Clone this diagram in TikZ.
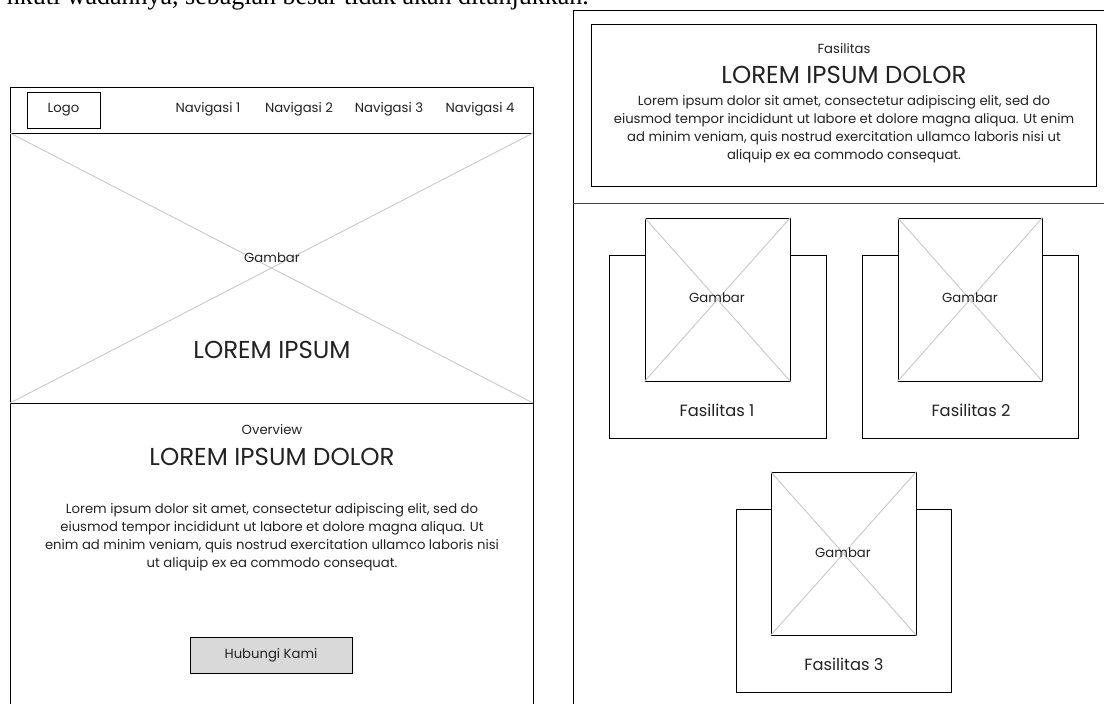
\documentclass[tikz,border=0pt]{standalone}
\usepackage{fontspec}
\setmainfont{Poppins}
\newfontfamily\docserif{Liberation Serif}
\definecolor{crossgray}{HTML}{C8C8C8}
\definecolor{btngray}{HTML}{D9D9D9}
\definecolor{txt}{HTML}{222222}
\tikzset{
  box/.style={draw=black, line width=1pt, fill=white, inner sep=0pt},
  crossline/.style={draw=crossgray, line width=0.9pt},
  frame/.style={draw=black, line width=1pt},
  small/.style={text=txt, inner sep=0pt, font=\fontsize{13.2}{16}\selectfont},
  para/.style={text=txt, inner sep=0pt, align=center, font=\fontsize{13.2}{18}\selectfont},
  big/.style={text=txt, inner sep=0pt, font=\fontsize{24.5}{28}\selectfont},
  mid/.style={text=txt, inner sep=0pt, font=\fontsize{16.3}{19}\selectfont},
}
\begin{document}
\begin{tikzpicture}[x=1pt,y=-1pt]
\useasboundingbox (0,0) rectangle (1104,704);
\clip (0,0) rectangle (1104,704);
% cut-off line of document text
\node[anchor=base east, inner sep=0pt, font=\docserif\fontsize{26}{30}\selectfont] (doc) at (589,4.5) {nkuti wadahnya, sebagian besar tidak akan ditunjukkan.};

% ---------- left wireframe ----------
\draw[frame] (10,710) -- (10,87) -- (533,87) -- (533,710);
\draw[frame] (10,133) -- (533,133);
\draw[frame] (10,403) -- (533,403);
\node[box, minimum width=73pt, minimum height=36pt] (logo) at (63.5,110) {};
\node[small] (logot) at (logo) {Logo};
\node[small] (nav1) at (208,109.5) {Navigasi 1};
\node[small] (nav2) at (299,109.5) {Navigasi 2};
\node[small] (nav3) at (389,109.5) {Navigasi 3};
\node[small] (nav4) at (480,109.5) {Navigasi 4};
\draw[crossline] (10,133) -- (533,403);
\draw[crossline] (10,403) -- (533,133);
\node[small] (hgam) at (272,258) {Gambar};
\node[big] (hero) at (272,350) {LOREM IPSUM};
\node[small] (ov) at (272,430) {Overview};
\node[big] (ovt) at (272,457) {LOREM IPSUM DOLOR};
\node[para] (ovp) at (272,537) {Lorem ipsum dolor sit amet, consectetur adipiscing elit, sed do\\eiusmod tempor incididunt ut labore et dolore magna aliqua. Ut\\enim ad minim veniam, quis nostrud exercitation ullamco laboris nisi\\ut aliquip ex ea commodo consequat.};
\node[box, fill=btngray, minimum width=162pt, minimum height=36pt] (btn) at (271,655) {};
\node[small] (btnt) at (btn) {Hubungi Kami};

% ---------- right wireframe ----------
\draw[frame] (573,710) -- (573,10) -- (1110,10);
\draw[draw=black!75, line width=1pt] (573,203) -- (1110,203);
\node[box, minimum width=505pt, minimum height=162pt] (fas) at (843.5,105) {};
\node[small] (fast) at (844,49) {Fasilitas};
\node[big] (fasT) at (844,75) {LOREM IPSUM DOLOR};
\node[para] (fasp) at (844,129) {Lorem ipsum dolor sit amet, consectetur adipiscing elit, sed do\\eiusmod tempor incididunt ut labore et dolore magna aliqua. Ut enim\\ad minim veniam, quis nostrud exercitation ullamco laboris nisi ut\\aliquip ex ea commodo consequat.};

% card 1
\node[box, minimum width=217pt, minimum height=183pt] (c1) at (717.5,346.5) {};
\node[box, minimum width=145pt, minimum height=163pt] (i1) at (717.5,299.5) {};
\draw[crossline] (i1.north west) -- (i1.south east);
\draw[crossline] (i1.south west) -- (i1.north east);
\node[small] (g1) at (717,298) {Gambar};
\node[mid] (f1) at (717,410) {Fasilitas 1};
% card 2
\node[box, minimum width=216pt, minimum height=183pt] (c2) at (970,346.5) {};
\node[box, minimum width=144pt, minimum height=163pt] (i2) at (970,299.5) {};
\draw[crossline] (i2.north west) -- (i2.south east);
\draw[crossline] (i2.south west) -- (i2.north east);
\node[small] (g2) at (970,298) {Gambar};
\node[mid] (f2) at (971,410) {Fasilitas 2};
% card 3
\node[box, minimum width=215pt, minimum height=183pt] (c3) at (843.5,600.5) {};
\node[box, minimum width=145pt, minimum height=163pt] (i3) at (843.5,553.5) {};
\draw[crossline] (i3.north west) -- (i3.south east);
\draw[crossline] (i3.south west) -- (i3.north east);
\node[small] (g3) at (843,553) {Gambar};
\node[mid] (f3) at (844,664) {Fasilitas 3};
\end{tikzpicture}
\end{document}
